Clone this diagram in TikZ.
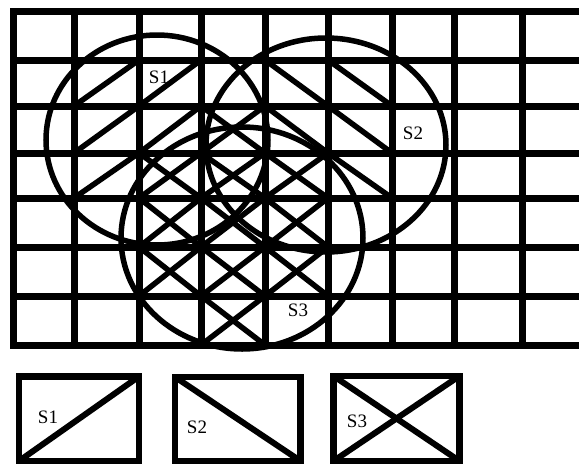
\documentclass[tikz,border=0pt]{standalone}
\usepackage{fontspec}
\setmainfont{Liberation Serif}
\begin{document}
\begin{tikzpicture}[x=1pt,y=-1pt,
  gridline/.style={line width=7pt,line cap=rect},
  ring/.style={line width=5.5pt},
  hatch/.style={line width=5.5pt},
  lbl/.style={font=\fontsize{19}{19}\selectfont,inner sep=1pt},
  legbox/.style={draw,line width=6.5pt,outer sep=0pt,inner sep=0pt}]
\useasboundingbox (0,0) rectangle (579,464);
% grid intersections
\foreach \x [count=\i from 0] in {13,74,139,201,265,328,392,454,522}
  \foreach \y [count=\j from 0] in {11,60,106,153,198,247,296,345}
    \coordinate (p\i-\j) at (\x,\y);
% horizontal grid lines
\foreach \y [count=\j from 0] in {11,60,106,153,198,247,296,345}
  \draw[gridline] (p0-\j) -- (585,\y);
% vertical grid lines
\foreach \i in {0,...,8}
  \draw[gridline] (p\i-0) -- (p\i-7);
% S1 hatching "/"
\foreach \i/\j in {1/1,2/1,1/2,2/2,3/2,1/3}{
  \pgfmathtruncatemacro\ip{\i+1}\pgfmathtruncatemacro\jp{\j+1}
  \draw[hatch] (p\i-\jp) -- (p\ip-\j);}
% S2 hatching "\"
\foreach \i/\j in {4/1,5/1,3/2,4/2,5/2,5/3}{
  \pgfmathtruncatemacro\ip{\i+1}\pgfmathtruncatemacro\jp{\j+1}
  \draw[hatch] (p\i-\j) -- (p\ip-\jp);}
% S3 hatching "X"
\foreach \i/\j in {2/3,3/3,4/3,2/4,3/4,4/4,2/5,3/5,4/5,3/6}{
  \pgfmathtruncatemacro\ip{\i+1}\pgfmathtruncatemacro\jp{\j+1}
  \draw[hatch] (p\i-\j) -- (p\ip-\jp);
  \draw[hatch] (p\i-\jp) -- (p\ip-\j);}
% circles
\draw[ring] (157,140) ellipse [x radius=111, y radius=105];
\draw[ring] (326,145) ellipse [x radius=120, y radius=107];
\draw[ring] (242,238) ellipse [x radius=121, y radius=111];
% labels
\node[lbl] (s1) at (159,77) {S1};
\node[lbl] (s2) at (413,133) {S2};
\node[lbl] (s3) at (298,310) {S3};
% legend
\node[legbox,minimum width=120pt,minimum height=84.5pt] (b1) at (79,418.75) {};
\draw[hatch,line width=6pt] (b1.south west) -- (b1.north east);
\node[lbl] (l1) at (48,417) {S1};
\node[legbox,minimum width=125.5pt,minimum height=84pt] (b2) at (237.75,419) {};
\draw[hatch,line width=6pt] (b2.north west) -- (b2.south east);
\node[lbl] (l2) at (197,427) {S2};
\node[legbox,minimum width=126pt,minimum height=85pt] (b3) at (396.5,418.5) {};
\draw[hatch,line width=6pt] (b3.north west) -- (b3.south east);
\draw[hatch,line width=6pt] (b3.south west) -- (b3.north east);
\node[lbl] (l3) at (357,421) {S3};
\end{tikzpicture}
\end{document}
